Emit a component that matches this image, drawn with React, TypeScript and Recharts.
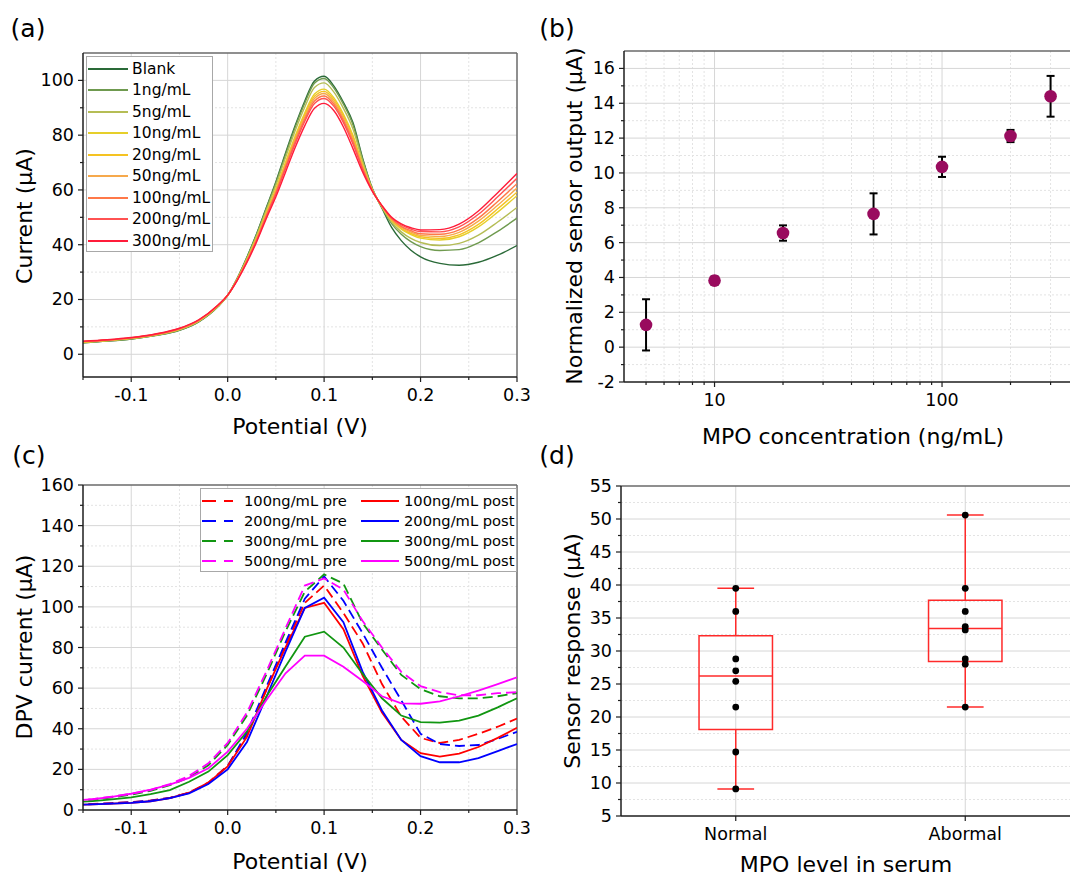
import React from "react";
import {
  LineChart,
  Line,
  ScatterChart,
  Scatter,
  XAxis,
  YAxis,
  CartesianGrid,
  ReferenceLine,
  ReferenceArea,
  ErrorBar,
} from "recharts";

const FONT = '"DejaVu Sans", Verdana, sans-serif';
const AXIS = "#1e1e1e";
const BORDER = "#6a6a6a";
const GRID_MAJOR = "#d6d6d6";
const GRID_MINOR = "#e3e3e3";

// ---------- (a) DPV curves vs MPO concentration ----------
const potentialA = [
  -0.15, -0.125, -0.1, -0.075, -0.05, -0.03, -0.01, 0, 0.01, 0.02, 0.03, 0.04, 0.05, 0.06, 0.07, 0.08,
  0.09, 0.1, 0.11, 0.12, 0.13, 0.14, 0.15, 0.16, 0.17, 0.18, 0.19, 0.2, 0.22, 0.24, 0.26, 0.28, 0.3,
];
const blankA = [4.2, 4.8, 5.6, 6.8, 8.7, 11.8, 17.4, 21.5, 27.8, 35.5, 44.0, 53.5, 63.0, 73.5, 83.5, 92.5, 99.8, 101.5, 98.0, 92.0, 84.5, 71.5, 60.5, 53.3, 46.3, 41.5, 38.0, 35.6, 33.2, 32.5, 33.6, 36.2, 39.7];
const ng1A = [4.2, 4.8, 5.6, 6.9, 8.8, 11.9, 17.4, 21.5, 27.7, 35.3, 43.8, 53.2, 62.6, 72.9, 82.9, 91.8, 99.0, 100.7, 97.3, 91.3, 83.7, 71.1, 60.4, 53.5, 47.7, 43.8, 41.1, 39.3, 37.9, 38.2, 40.7, 44.9, 49.7];
const ng5A = [4.3, 4.9, 5.7, 6.9, 8.9, 12.0, 17.5, 21.5, 27.6, 35.0, 43.3, 52.5, 61.7, 71.8, 81.6, 90.3, 97.4, 99.1, 95.8, 89.8, 82.2, 70.3, 60.3, 53.7, 48.3, 44.7, 42.3, 40.8, 39.7, 40.5, 43.5, 48.3, 53.6];
const ng10A = [4.5, 5.0, 5.8, 7.1, 9.1, 12.2, 17.7, 21.5, 27.4, 34.5, 42.6, 51.6, 60.4, 70.1, 79.7, 88.2, 95.0, 96.8, 93.7, 87.7, 79.9, 69.1, 60.0, 53.9, 48.9, 45.7, 43.7, 42.4, 41.7, 42.9, 46.5, 51.9, 57.9];
const ng20A = [4.5, 5.1, 5.9, 7.1, 9.2, 12.3, 17.7, 21.6, 27.4, 34.4, 42.3, 51.3, 59.9, 69.6, 79.0, 87.5, 94.2, 96.0, 93.0, 87.0, 79.2, 68.7, 59.9, 54.0, 49.0, 46.0, 44.1, 42.9, 42.3, 43.6, 47.4, 53.1, 59.2];
const ng50A = [4.6, 5.1, 5.9, 7.2, 9.2, 12.3, 17.8, 21.6, 27.3, 34.2, 42.1, 50.9, 59.5, 69.0, 78.4, 86.7, 93.4, 95.2, 92.2, 86.2, 78.4, 68.3, 59.9, 54.0, 49.3, 46.4, 44.6, 43.4, 43.0, 44.5, 48.6, 54.4, 60.7];
const ng100A = [4.6, 5.2, 6.0, 7.2, 9.3, 12.4, 17.8, 21.6, 27.2, 34.0, 41.8, 50.6, 59.0, 68.4, 77.7, 85.9, 92.5, 94.3, 91.4, 85.4, 77.6, 67.9, 59.8, 54.1, 49.5, 46.7, 45.1, 44.0, 43.8, 45.4, 49.7, 55.8, 62.3];
const ng200A = [4.7, 5.2, 6.0, 7.3, 9.4, 12.5, 17.9, 21.6, 27.1, 33.9, 41.5, 50.2, 58.5, 67.8, 76.9, 85.1, 91.6, 93.4, 90.6, 84.6, 76.7, 67.4, 59.7, 54.2, 49.8, 47.2, 45.7, 44.8, 44.7, 46.5, 51.1, 57.5, 64.3];
const ng300A = [4.8, 5.3, 6.1, 7.4, 9.5, 12.6, 18.0, 21.6, 27.0, 33.5, 41.0, 49.5, 57.5, 66.5, 75.5, 83.5, 89.8, 91.6, 89.0, 83.0, 75.0, 66.5, 59.5, 54.3, 50.0, 47.6, 46.2, 45.4, 45.5, 47.5, 52.3, 59.0, 66.0];

const seriesA = [
  { key: "blank", name: "Blank", color: "#2a6a38", values: blankA },
  { key: "ng1", name: "1ng/mL", color: "#6f9a4f", values: ng1A },
  { key: "ng5", name: "5ng/mL", color: "#b5bd55", values: ng5A },
  { key: "ng10", name: "10ng/mL", color: "#e6cf2a", values: ng10A },
  { key: "ng20", name: "20ng/mL", color: "#f5c322", values: ng20A },
  { key: "ng50", name: "50ng/mL", color: "#f6a94c", values: ng50A },
  { key: "ng100", name: "100ng/mL", color: "#ff7848", values: ng100A },
  { key: "ng200", name: "200ng/mL", color: "#ff5252", values: ng200A },
  { key: "ng300", name: "300ng/mL", color: "#ff1c3a", values: ng300A },
];

// ---------- (b) calibration ----------
const concentrations = [5, 10, 20, 50, 100, 200, 300];
const sensorOutput = [1.28, 3.82, 6.55, 7.65, 10.35, 12.12, 14.4];
const sensorError = [1.47, 0.24, 0.44, 1.18, 0.58, 0.35, 1.17];

// ---------- (c) pre / post ----------
const potentialC = [-0.16, -0.14, -0.12, -0.1, -0.08, -0.06, -0.04, -0.02, 0, 0.02, 0.04, 0.06, 0.08, 0.1, 0.12, 0.14, 0.16, 0.18, 0.2, 0.22, 0.24, 0.26, 0.28, 0.3];
const pre100 = [2.6, 3.0, 3.4, 3.9, 4.7, 6.0, 8.6, 13.5, 21.8, 37.0, 59.0, 81.0, 102.0, 110.5, 97.0, 82.0, 62.0, 46.0, 35.5, 33.0, 34.5, 37.5, 41.0, 45.0];
const pre200 = [2.5, 2.9, 3.3, 3.8, 4.6, 5.9, 8.4, 13.2, 21.5, 38.0, 60.5, 82.5, 104.0, 115.0, 103.0, 87.0, 70.0, 54.0, 37.5, 32.5, 31.5, 32.0, 35.0, 38.5];
const pre300 = [4.3, 5.0, 6.2, 7.6, 9.4, 12.2, 16.0, 22.0, 32.0, 46.5, 66.5, 88.0, 107.5, 116.0, 111.5, 92.0, 79.0, 66.5, 59.5, 56.0, 55.0, 55.0, 56.0, 57.5];
const pre500 = [4.6, 5.4, 6.6, 8.0, 9.8, 12.8, 16.8, 23.0, 33.0, 48.0, 68.0, 89.5, 110.5, 114.0, 108.5, 93.0, 80.0, 68.0, 61.0, 58.0, 56.5, 56.5, 57.5, 58.0];
const post100 = [2.4, 2.8, 3.1, 3.5, 4.3, 5.8, 8.5, 13.5, 21.5, 36.0, 59.0, 80.0, 99.5, 102.0, 89.0, 66.0, 48.0, 34.5, 28.0, 26.3, 27.8, 31.0, 35.5, 40.5];
const post200 = [2.4, 2.8, 3.1, 3.5, 4.3, 5.8, 8.2, 12.8, 20.0, 33.5, 55.5, 78.0, 99.5, 104.5, 92.5, 68.0, 49.0, 34.5, 26.5, 23.5, 23.5, 25.5, 29.0, 32.5];
const post300 = [3.9, 4.4, 5.2, 6.2, 7.8, 9.8, 13.9, 18.9, 27.0, 38.6, 55.8, 70.6, 85.3, 87.8, 80.0, 67.0, 55.0, 46.5, 43.3, 43.0, 44.0, 46.5, 50.5, 55.0];
const post500 = [4.6, 5.3, 6.5, 8.0, 10.0, 12.5, 15.8, 20.5, 28.7, 40.0, 54.0, 67.3, 76.0, 76.0, 70.5, 63.5, 56.0, 52.5, 52.3, 53.5, 56.0, 58.8, 62.0, 65.3];

const seriesC = [
  { key: "pre100", name: "100ng/mL pre", color: "#ff0000", dashed: true, values: pre100 },
  { key: "pre200", name: "200ng/mL pre", color: "#0000ff", dashed: true, values: pre200 },
  { key: "pre300", name: "300ng/mL pre", color: "#119611", dashed: true, values: pre300 },
  { key: "pre500", name: "500ng/mL pre", color: "#ff00ff", dashed: true, values: pre500 },
  { key: "post100", name: "100ng/mL post", color: "#ff0000", dashed: false, values: post100 },
  { key: "post200", name: "200ng/mL post", color: "#0000ff", dashed: false, values: post200 },
  { key: "post300", name: "300ng/mL post", color: "#119611", dashed: false, values: post300 },
  { key: "post500", name: "500ng/mL post", color: "#ff00ff", dashed: false, values: post500 },
];

// ---------- (d) serum box chart ----------
const groups = ["Normal", "Abormal"];
const normalValues = [39.5, 36.0, 28.8, 27.0, 25.4, 21.5, 14.7, 9.1];
const abnormalValues = [50.6, 39.5, 36.0, 33.7, 33.2, 28.8, 28.0, 21.5];
const boxMin = [9.1, 21.5];
const boxQ1 = [18.1, 28.4];
const boxMedian = [26.2, 33.4];
const boxQ3 = [32.3, 37.7];
const boxMax = [39.5, 50.6];

const rowsA = potentialA.map((p, i) => {
  const row: Record<string, number> = { p };
  seriesA.forEach((s) => (row[s.key] = s.values[i]));
  return row;
});
const rowsB = concentrations.map((c, i) => ({ c, out: sensorOutput[i], err: sensorError[i] }));
const rowsC = potentialC.map((p, i) => {
  const row: Record<string, number> = { p };
  seriesC.forEach((s) => (row[s.key] = s.values[i]));
  return row;
});
const rowsD = [
  ...normalValues.map((v) => ({ g: 1, v })),
  ...abnormalValues.map((v) => ({ g: 2, v })),
];

// tick helpers: ticks include minor positions, only majors get labels
const TICK_SIZE = 17.5;
const near = (v: number, list: number[]) => list.some((m) => Math.abs(m - v) < 1e-9);

function leftTick(majors: number[], fmt: (v: number) => string = (v) => String(v)) {
  return (props: any) => {
    const { x, y, payload } = props;
    const major = near(payload.value, majors);
    return (
      <g>
        <line x1={x} y1={y} x2={x - (major ? 5 : 3)} y2={y} stroke={AXIS} strokeWidth={1.2} />
        {major && (
          <text x={x - 9} y={y} textAnchor="end" dominantBaseline="central"
            style={{ fontFamily: FONT, fontSize: TICK_SIZE, fill: "#000" }}>
            {fmt(payload.value)}
          </text>
        )}
      </g>
    );
  };
}

function bottomTick(majors: number[], fmt: (v: number) => string = (v) => String(v)) {
  return (props: any) => {
    const { x, y, payload } = props;
    const major = near(payload.value, majors);
    return (
      <g>
        <line x1={x} y1={y} x2={x} y2={y + (major ? 5 : 3)} stroke={AXIS} strokeWidth={1.2} />
        {major && (
          <text x={x} y={y + 18} textAnchor="middle" dominantBaseline="central"
            style={{ fontFamily: FONT, fontSize: TICK_SIZE, fill: "#000" }}>
            {fmt(payload.value)}
          </text>
        )}
      </g>
    );
  };
}

const axisLine = { stroke: AXIS, strokeWidth: 1.5 };
const fix1 = (v: number) => v.toFixed(1);

const potTicks = [-0.15, -0.1, -0.05, 0, 0.05, 0.1, 0.15, 0.2, 0.25, 0.3];
const potMajors = [-0.1, 0, 0.1, 0.2, 0.3];

function Caption({ x, y, size = 22, rotate = false, children }: any) {
  return (
    <div
      style={{
        position: "absolute",
        left: x,
        top: y,
        transform: `translate(-50%, -50%)${rotate ? " rotate(-90deg)" : ""}`,
        fontSize: size,
        lineHeight: 1,
        whiteSpace: "nowrap",
        fontFamily: FONT,
        color: "#000",
      }}
    >
      {children}
    </div>
  );
}

function LegendA() {
  return (
    <div
      style={{
        position: "absolute",
        left: 86,
        top: 56,
        width: 127,
        height: 196,
        border: "1px solid #a8a8a8",
        background: "#fff",
        boxSizing: "border-box",
        fontFamily: FONT,
        fontSize: 15.5,
      }}
    >
      {seriesA.map((s, i) => (
        <div key={s.key} style={{ position: "absolute", left: 0, top: 1.5 + i * 21.55, height: 20, width: "100%" }}>
          <div style={{ position: "absolute", left: 1, top: 9, width: 40, height: 2, background: s.color }} />
          <span style={{ position: "absolute", left: 45, top: 0, lineHeight: "20px", color: "#000" }}>{s.name}</span>
        </div>
      ))}
    </div>
  );
}

function LegendC() {
  const col = (s: (typeof seriesC)[number], i: number) => {
    const right = !s.dashed;
    const row = right ? i - 4 : i;
    return (
      <div key={s.key} style={{ position: "absolute", left: right ? 159 : 0, top: 2.3 + row * 20.2, height: 20, width: 157 }}>
        <svg style={{ position: "absolute", left: 1, top: 8 }} width={right ? 38 : 31} height={4}>
          <line x1={0} y1={2} x2={right ? 38 : 31} y2={2} stroke={s.color} strokeWidth={2} strokeDasharray={s.dashed ? "14 8" : undefined} />
        </svg>
        <span style={{ position: "absolute", left: right ? 44 : 43, top: 0, lineHeight: "20px", color: "#000" }}>{s.name}</span>
      </div>
    );
  };
  return (
    <div
      style={{
        position: "absolute",
        left: 200,
        top: 47.5,
        width: 317,
        height: 84,
        border: "1px solid #a8a8a8",
        background: "#fff",
        boxSizing: "border-box",
        fontFamily: FONT,
        fontSize: 14.7,
      }}
    >
      {seriesC.map(col)}
    </div>
  );
}

function PanelA() {
  return (
    <div style={{ position: "absolute", left: 0, top: 0, width: 530, height: 440 }}>
      <LineChart width={530} height={440} data={rowsA} margin={{ top: 53, right: 13, bottom: 23, left: 23 }}>
        <CartesianGrid stroke={GRID_MINOR} strokeDasharray="2 2" horizontalValues={[10, 30, 50, 70, 90]} verticalValues={[-0.05, 0.05, 0.15, 0.25]} />
        <CartesianGrid stroke={GRID_MAJOR} horizontalValues={[0, 20, 40, 60, 80, 100]} verticalValues={[-0.1, 0, 0.1, 0.2]} />
        <XAxis type="number" dataKey="p" domain={[-0.15, 0.3]} allowDataOverflow ticks={potTicks} interval={0} height={40}
          tick={bottomTick(potMajors, fix1)} tickLine={false} tickSize={0} tickMargin={0} axisLine={axisLine} />
        <YAxis type="number" domain={[-8.3, 110]} allowDataOverflow ticks={[0, 10, 20, 30, 40, 50, 60, 70, 80, 90, 100]} interval={0} width={60}
          tick={leftTick([0, 20, 40, 60, 80, 100])} tickLine={false} tickSize={0} tickMargin={0} axisLine={axisLine} />
        <ReferenceLine y={110} stroke={BORDER} strokeWidth={1.5} />
        <ReferenceLine x={0.3} stroke={BORDER} strokeWidth={1.5} />
        {seriesA.map((s) => (
          <Line key={s.key} type="monotone" dataKey={s.key} stroke={s.color} strokeWidth={1.4} dot={false} isAnimationActive={false} />
        ))}
      </LineChart>
      <LegendA />
    </div>
  );
}

function PanelB() {
  const minorX = [5, 6, 7, 8, 9, 20, 30, 40, 50, 60, 70, 80, 90, 200, 300, 400];
  return (
    <div style={{ position: "absolute", left: 530, top: 0, width: 560, height: 440 }}>
      <ScatterChart width={559} height={440} margin={{ top: 51, right: 10, bottom: 18, left: 34 }}>
        <CartesianGrid stroke={GRID_MINOR} strokeDasharray="2 2" horizontalValues={[-1, 1, 3, 5, 7, 9, 11, 13, 15]} verticalValues={minorX} />
        <CartesianGrid stroke={GRID_MAJOR} horizontalValues={[0, 2, 4, 6, 8, 10, 12, 14, 16]} verticalValues={[10, 100]} />
        <XAxis type="number" dataKey="c" scale="log" domain={[4, 400]} allowDataOverflow
          ticks={[5, 6, 7, 8, 9, 10, 20, 30, 40, 50, 60, 70, 80, 90, 100, 200, 300, 400]} interval={0} height={40}
          tick={bottomTick([10, 100])} tickLine={false} tickSize={0} tickMargin={0} axisLine={axisLine} />
        <YAxis type="number" dataKey="out" domain={[-2, 17]} allowDataOverflow
          ticks={[-2, -1, 0, 1, 2, 3, 4, 5, 6, 7, 8, 9, 10, 11, 12, 13, 14, 15, 16]} interval={0} width={60}
          tick={leftTick([-2, 0, 2, 4, 6, 8, 10, 12, 14, 16])} tickLine={false} tickSize={0} tickMargin={0} axisLine={axisLine} />
        <ReferenceLine y={17} stroke={BORDER} strokeWidth={1.5} />
        <Scatter data={rowsB} fill="#990b5e" isAnimationActive={false}
          shape={(p: any) => <circle cx={p.cx} cy={p.cy} r={6.3} fill="#990b5e" />}>
          <ErrorBar dataKey="err" direction="y" width={4} stroke="#000" strokeWidth={2} isAnimationActive={false} />
        </Scatter>
      </ScatterChart>
    </div>
  );
}

function PanelC() {
  return (
    <div style={{ position: "absolute", left: 0, top: 440, width: 530, height: 438 }}>
      <LineChart width={530} height={438} data={rowsC} margin={{ top: 45, right: 13, bottom: 28, left: 23 }}>
        <CartesianGrid stroke={GRID_MINOR} strokeDasharray="2 2" horizontalValues={[10, 30, 50, 70, 90, 110, 130, 150]} verticalValues={[-0.05, 0.05, 0.15, 0.25]} />
        <CartesianGrid stroke={GRID_MAJOR} horizontalValues={[20, 40, 60, 80, 100, 120, 140]} verticalValues={[-0.1, 0, 0.1, 0.2]} />
        <XAxis type="number" dataKey="p" domain={[-0.15, 0.3]} allowDataOverflow ticks={potTicks} interval={0} height={40}
          tick={bottomTick(potMajors, fix1)} tickLine={false} tickSize={0} tickMargin={0} axisLine={axisLine} />
        <YAxis type="number" domain={[0, 160]} allowDataOverflow
          ticks={[0, 10, 20, 30, 40, 50, 60, 70, 80, 90, 100, 110, 120, 130, 140, 150, 160]} interval={0} width={60}
          tick={leftTick([0, 20, 40, 60, 80, 100, 120, 140, 160])} tickLine={false} tickSize={0} tickMargin={0} axisLine={axisLine} />
        <ReferenceLine y={160} stroke={BORDER} strokeWidth={1.5} />
        <ReferenceLine x={0.3} stroke={BORDER} strokeWidth={1.5} />
        {seriesC.map((s) => (
          <Line key={s.key} type="linear" dataKey={s.key} stroke={s.color} strokeWidth={1.8}
            strokeDasharray={s.dashed ? "10 5" : undefined} dot={false} isAnimationActive={false} />
        ))}
      </LineChart>
      <LegendC />
    </div>
  );
}

function PanelD() {
  const boxColor = "#ff2a2a";
  const half = 0.16;
  const cap = 0.08;
  return (
    <div style={{ position: "absolute", left: 530, top: 440, width: 560, height: 438 }}>
      <ScatterChart width={560} height={438} margin={{ top: 46, right: 10, bottom: 22, left: 31 }}>
        <CartesianGrid stroke={GRID_MINOR} strokeDasharray="2 2" vertical={false}
          horizontalValues={[7.5, 12.5, 17.5, 22.5, 27.5, 32.5, 37.5, 42.5, 47.5, 52.5]} />
        <CartesianGrid stroke={GRID_MAJOR} horizontalValues={[10, 15, 20, 25, 30, 35, 40, 45, 50]} verticalValues={[1, 2]} />
        <XAxis type="number" dataKey="g" domain={[0.5, 2.5]} allowDataOverflow ticks={[1, 2]} interval={0} height={40}
          tick={bottomTick([1, 2], (v) => groups[v - 1])} tickLine={false} tickSize={0} tickMargin={0} axisLine={axisLine} />
        <YAxis type="number" dataKey="v" domain={[5, 55]} allowDataOverflow
          ticks={[5, 7.5, 10, 12.5, 15, 17.5, 20, 22.5, 25, 27.5, 30, 32.5, 35, 37.5, 40, 42.5, 45, 47.5, 50, 52.5, 55]} interval={0} width={60}
          tick={leftTick([5, 10, 15, 20, 25, 30, 35, 40, 45, 50, 55])} tickLine={false} tickSize={0} tickMargin={0} axisLine={axisLine} />
        <ReferenceLine y={55} stroke={BORDER} strokeWidth={1.5} />
        {groups.map((g, i) => {
          const cx = i + 1;
          return (
            <React.Fragment key={g}>
              <ReferenceLine segment={[{ x: cx, y: boxQ3[i] }, { x: cx, y: boxMax[i] }]} stroke={boxColor} strokeWidth={1.5} />
              <ReferenceLine segment={[{ x: cx, y: boxMin[i] }, { x: cx, y: boxQ1[i] }]} stroke={boxColor} strokeWidth={1.5} />
              <ReferenceLine segment={[{ x: cx - cap, y: boxMax[i] }, { x: cx + cap, y: boxMax[i] }]} stroke={boxColor} strokeWidth={1.5} />
              <ReferenceLine segment={[{ x: cx - cap, y: boxMin[i] }, { x: cx + cap, y: boxMin[i] }]} stroke={boxColor} strokeWidth={1.5} />
              <ReferenceArea x1={cx - half} x2={cx + half} y1={boxQ1[i]} y2={boxQ3[i]} fill="none" fillOpacity={0} stroke={boxColor} strokeWidth={1.5} />
              <ReferenceLine segment={[{ x: cx - half, y: boxMedian[i] }, { x: cx + half, y: boxMedian[i] }]} stroke={boxColor} strokeWidth={1.5} />
            </React.Fragment>
          );
        })}
        <Scatter data={rowsD} fill="#000" isAnimationActive={false}
          shape={(p: any) => <circle cx={p.cx} cy={p.cy} r={3.4} fill="#000" />} />
      </ScatterChart>
    </div>
  );
}

export default function App() {
  return (
    <div
      style={{
        position: "absolute",
        left: 0,
        top: 0,
        width: 1070,
        height: 878,
        overflow: "hidden",
        background: "#fff",
        fontFamily: FONT,
      }}
    >
      <PanelA />
      <PanelB />
      <PanelC />
      <PanelD />

      <Caption x={28} y={28} size={25}>(a)</Caption>
      <Caption x={557} y={28} size={25}>(b)</Caption>
      <Caption x={29} y={455} size={25}>(c)</Caption>
      <Caption x={557} y={455} size={25}>(d)</Caption>

      <Caption x={300} y={427}>Potential (V)</Caption>
      <Caption x={25} y={216} rotate>Current (µA)</Caption>
      <Caption x={853} y={437}>MPO concentration (ng/mL)</Caption>
      <Caption x={575} y={216} rotate>Normalized sensor output (µA)</Caption>
      <Caption x={300} y={862}>Potential (V)</Caption>
      <Caption x={25} y={647} rotate>DPV current (µA)</Caption>
      <Caption x={846} y={865}>MPO level in serum</Caption>
      <Caption x={573} y={651} rotate>Sensor response (µA)</Caption>
    </div>
  );
}
